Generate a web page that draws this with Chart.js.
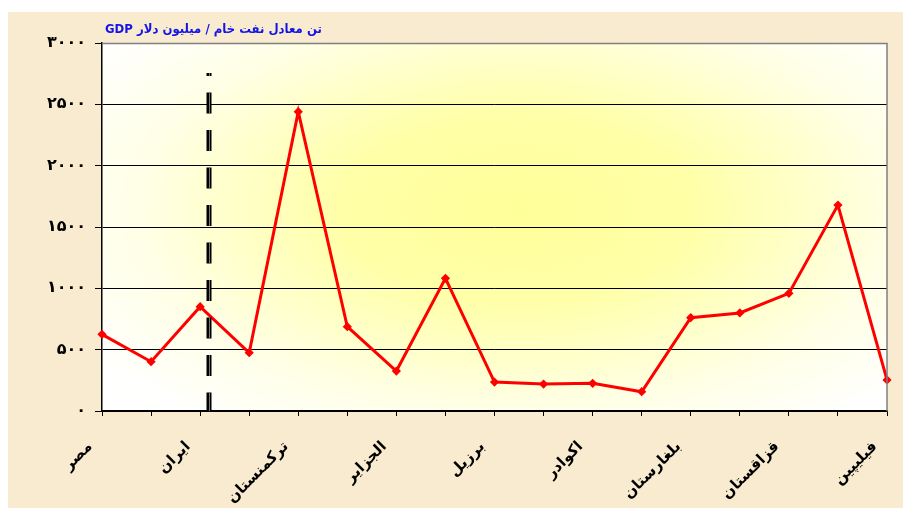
<!DOCTYPE html>
<html><head><meta charset="utf-8">
<script src="https://cdn.jsdelivr.net/npm/chart.js@4/dist/chart.umd.min.js"></script>
<style>html,body{margin:0;padding:0;background:#fff;}#wrap{width:903px;height:508px;position:relative;}</style>
</head><body><div id="wrap"><canvas id="c" width="903" height="508"></canvas></div>
<script>
const categories = ['مصر','','ایران','','ترکمنستان','','الجزایر','','برزیل','','اکوادر','','بلغارستان','','قزاقستان','','فیلیپین'];
const values = [625,402,850,475,2440,687,326,1082,236,220,226,157,761,799,959,1679,253];
const yTickLabels = {0:'۰',500:'۵۰۰',1000:'۱۰۰۰',1500:'۱۵۰۰',2000:'۲۰۰۰',2500:'۲۵۰۰',3000:'۳۰۰۰'};
const titleText = 'تن معادل نفت خام / میلیون دلار GDP';
const dividerX = 2.18;
const dividerTop = 2755;

const bgPlugin = {
  id:'bg',
  beforeDraw(chart){
    const ctx = chart.ctx, a = chart.chartArea;
    ctx.save();
    ctx.fillStyle = '#fff';
    ctx.fillRect(0,0,chart.width,chart.height);
    ctx.fillStyle = '#F8EBCF';
    ctx.fillRect(8,12,chart.width-8,chart.height-12);
    ctx.beginPath();
    ctx.rect(a.left,a.top,a.right-a.left,a.bottom-a.top);
    ctx.clip();
    const cx = a.left + (a.right-a.left)*0.53, cy = a.top + (a.bottom-a.top)*0.45;
    ctx.translate(cx,cy);
    ctx.scale(1.9,1);
    const r = (a.bottom-a.top)*0.72;
    const g = ctx.createRadialGradient(0,0,0,0,0,r);
    g.addColorStop(0,'#FFFF99');
    g.addColorStop(0.35,'#FFFFA8');
    g.addColorStop(0.75,'#FFFFE6');
    g.addColorStop(1,'#FFFFFD');
    ctx.fillStyle = g;
    ctx.fillRect(-r*2,-r*2,r*4,r*4);
    ctx.restore();
  },
  afterDraw(chart){
    const ctx = chart.ctx, a = chart.chartArea;
    const xs = chart.scales.x, ys = chart.scales.y;
    ctx.save();
    ctx.strokeStyle = '#808080';
    ctx.lineWidth = 1.5;
    ctx.beginPath();
    ctx.moveTo(a.left, a.top+0.5);
    ctx.lineTo(a.right, a.top+0.5);
    ctx.lineTo(a.right, a.bottom);
    ctx.stroke();
    const x = Math.round(xs.getPixelForValue(dividerX));
    const y0 = ys.getPixelForValue(dividerTop), y1 = ys.getPixelForValue(0);
    ctx.setLineDash([21,16.5]);
    ctx.lineDashOffset = 18;
    ctx.strokeStyle = '#000';
    ctx.lineWidth = 5;
    ctx.beginPath(); ctx.moveTo(x,y0); ctx.lineTo(x,y1); ctx.stroke();
    ctx.strokeStyle = '#777';
    ctx.lineWidth = 1;
    ctx.beginPath(); ctx.moveTo(x+0.5,y0); ctx.lineTo(x+0.5,y1); ctx.stroke();
    ctx.setLineDash([]);
    ctx.fillStyle = '#1414E6';
    ctx.font = 'bold 13px "DejaVu Sans Condensed"';
    ctx.direction = 'rtl';
    ctx.textAlign = 'left';
    ctx.textBaseline = 'alphabetic';
    ctx.fillText(titleText, a.left+3, a.top-10);
    ctx.restore();
  }
};

new Chart(document.getElementById('c'), {
  type:'line',
  data:{labels:categories, datasets:[{
    data:values, borderColor:'#FF0000', backgroundColor:'#FF0000', borderWidth:3,
    pointStyle:'rectRot', pointRadius:2.5, pointHoverRadius:2.5, tension:0, fill:false
  }]},
  options:{
    responsive:false, animation:false, devicePixelRatio:1,
    layout:{padding:{left:0,top:43,right:16,bottom:0}},
    plugins:{legend:{display:false}, tooltip:{enabled:false}, title:{display:false}},
    scales:{
      x:{
        offset:false,
        grid:{display:true, drawOnChartArea:false, drawTicks:true, tickLength:5, color:'#000', lineWidth:1},
        border:{display:true, color:'#000', width:1.5},
        ticks:{autoSkip:false, maxRotation:45, minRotation:45, color:'#000', padding:22, labelOffset:-12,
          font:{family:'"DejaVu Sans"', size:15, weight:'bold'}},
        afterFit(s){ s.height = 97; s.paddingRight = 0; s.paddingLeft = 0; }
      },
      y:{
        min:0, max:3000,
        grid:{color:'#000', lineWidth:1, tickLength:7},
        border:{display:true, color:'#000', width:1.5},
        ticks:{stepSize:500, color:'#000', padding:9,
          font:{family:'"DejaVu Sans"', size:16, weight:'bold'},
          callback:(v)=>yTickLabels[v]},
        afterFit(s){ s.width = 102; s.paddingTop = 0; s.paddingBottom = 0; }
      }
    }
  },
  plugins:[bgPlugin]
});
</script></body></html>
